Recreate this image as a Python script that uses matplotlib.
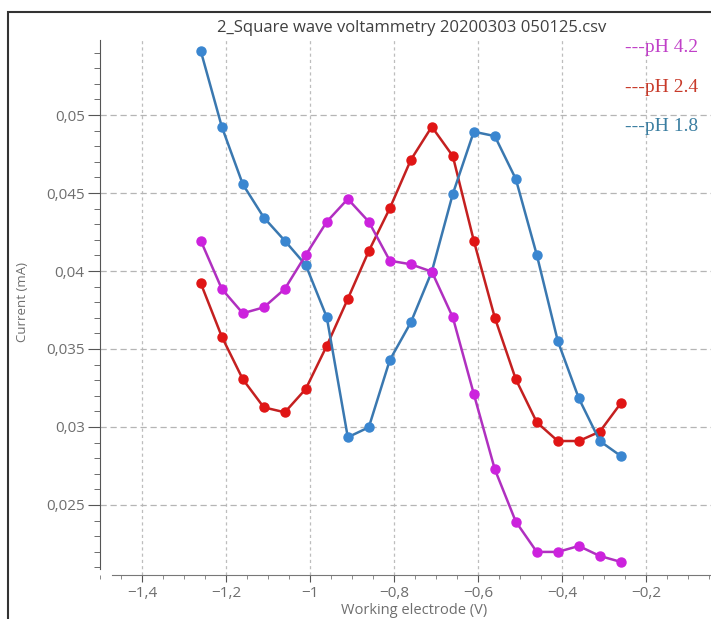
import matplotlib
matplotlib.use("Agg")
import matplotlib.pyplot as plt
from matplotlib.ticker import MultipleLocator, FuncFormatter
from matplotlib.patches import Rectangle

# potentials (V), same for all three curves
voltage = [-1.26, -1.21, -1.16, -1.11, -1.06, -1.01, -0.96, -0.91, -0.86, -0.81, -0.76,
           -0.71, -0.66, -0.61, -0.56, -0.51, -0.46, -0.41, -0.36, -0.31, -0.26]

# current (mA)
ph42 = [0.04194, 0.03885, 0.03729, 0.03767, 0.03885, 0.04103, 0.04316, 0.04462, 0.04316, 0.04066,
        0.04043, 0.03996, 0.03703, 0.03212, 0.02729, 0.02393, 0.02199, 0.02199, 0.02237, 0.02173, 0.02135]
ph24 = [0.03921, 0.03579, 0.03306, 0.03126, 0.03094, 0.03244, 0.03521, 0.03821, 0.04128, 0.04402,
        0.04712, 0.04925, 0.04737, 0.04194, 0.03701, 0.03306, 0.03030, 0.02910, 0.02910, 0.02970, 0.03152]
ph18 = [0.05410, 0.04925, 0.04556, 0.04343, 0.04194, 0.04038, 0.03703, 0.02934, 0.02998, 0.03429,
        0.03670, 0.03996, 0.04494, 0.04893, 0.04865, 0.04590, 0.04103, 0.03551, 0.03184, 0.02910, 0.02814]

legend_labels = ["---pH 4.2", "---pH 2.4", "---pH 1.8"]

W, H = 711, 619
fig = plt.figure(figsize=(W / 100, H / 100), dpi=100)
plt.rcParams['font.family'] = ['Open Sans', 'DejaVu Sans']

# axes box in pixels: left 100, right 730, top 40, bottom 575
ax = fig.add_axes([100 / W, 1 - 575 / H, 630 / W, 535 / H])
ax.set_xlim(-1.5, 0.0)
ax.set_ylim(0.02051, 0.05481)

grey = '#6e6e6e'
ax.plot(voltage, ph24, '-o', color='#c42020', mfc='#e01515', mec='#e01515', lw=1.8, ms=6.5, zorder=3)
ax.plot(voltage, ph18, '-o', color='#3a78b0', mfc='#3a86d0', mec='#3a86d0', lw=1.8, ms=6.5, zorder=4)
ax.plot(voltage, ph42, '-o', color='#b030c0', mfc='#cc22dd', mec='#cc22dd', lw=1.8, ms=6.5, zorder=5)

# grid
for v in [-1.4, -1.2, -1.0, -0.8, -0.6, -0.4, -0.2]:
    ax.axvline(v, color='#bdbdbd', lw=0.9, ls=(0, (2.5, 2.5)), zorder=1)
for c in [0.025, 0.03, 0.035, 0.04, 0.045, 0.05]:
    ax.axhline(c, color='#b5b5b5', lw=0.9, ls=(0, (5, 3)), zorder=1)

ax.spines['top'].set_visible(False)
ax.spines['right'].set_visible(False)
ax.spines['left'].set_color('#555555')
ax.spines['bottom'].set_color('#777777')
ax.spines['left'].set_bounds(0.0209, 0.05481)
ax.spines['bottom'].set_bounds(-1.471, 0.0)

fmt = FuncFormatter(lambda v, p: ('%g' % round(v, 4)).replace('.', ',').replace('-', '\u2212'))
ax.xaxis.set_major_locator(MultipleLocator(0.2))
ax.xaxis.set_minor_locator(MultipleLocator(0.05))
ax.yaxis.set_major_locator(MultipleLocator(0.005))
ax.yaxis.set_minor_locator(MultipleLocator(0.001))
ax.xaxis.set_major_formatter(fmt)
ax.yaxis.set_major_formatter(fmt)
ax.tick_params(axis='both', which='major', labelsize=11, labelcolor=grey, color='#555555')
ax.tick_params(axis='y', which='major', length=9, pad=2)
ax.tick_params(axis='y', which='minor', length=4, color='#555555')
ax.tick_params(axis='x', which='major', length=5, pad=3)
ax.tick_params(axis='x', which='minor', length=3, color='#777777')
xt = [t for t in ax.get_xticks() if -1.45 < t < -0.1]
ax.set_xticks(xt)

fig.text(412 / W, 1 - 28 / H, "2_Square wave voltammetry 20200303 050125.csv",
         ha='center', va='center', fontsize=12, color='#404040')
fig.text(414 / W, 1 - 611 / H, "Working electrode (V)", ha='center', va='center',
         fontsize=10.5, color=grey)
fig.text(23 / W, 1 - 302 / H, "Current (mA)", ha='center', va='center', rotation=90,
         fontsize=9.5, color=grey)

# legend typed as text in the original
leg_colors = ['#c040c8', '#c83a2a', '#3b7ea1']
leg_y = [48, 87, 126]
for lab, col, yy in zip(legend_labels, leg_colors, leg_y):
    fig.text(625 / W, 1 - yy / H, lab, ha='left', va='center', fontsize=14,
             color=col, family=['Liberation Serif', 'DejaVu Serif'])

# outer frame
fig.patches.append(Rectangle((8 / W, -0.1), 1.2, 1.1 - 12 / H, transform=fig.transFigure,
                             fill=False, edgecolor='#333333', lw=1.5))

fig.savefig("out.png", dpi=100)
